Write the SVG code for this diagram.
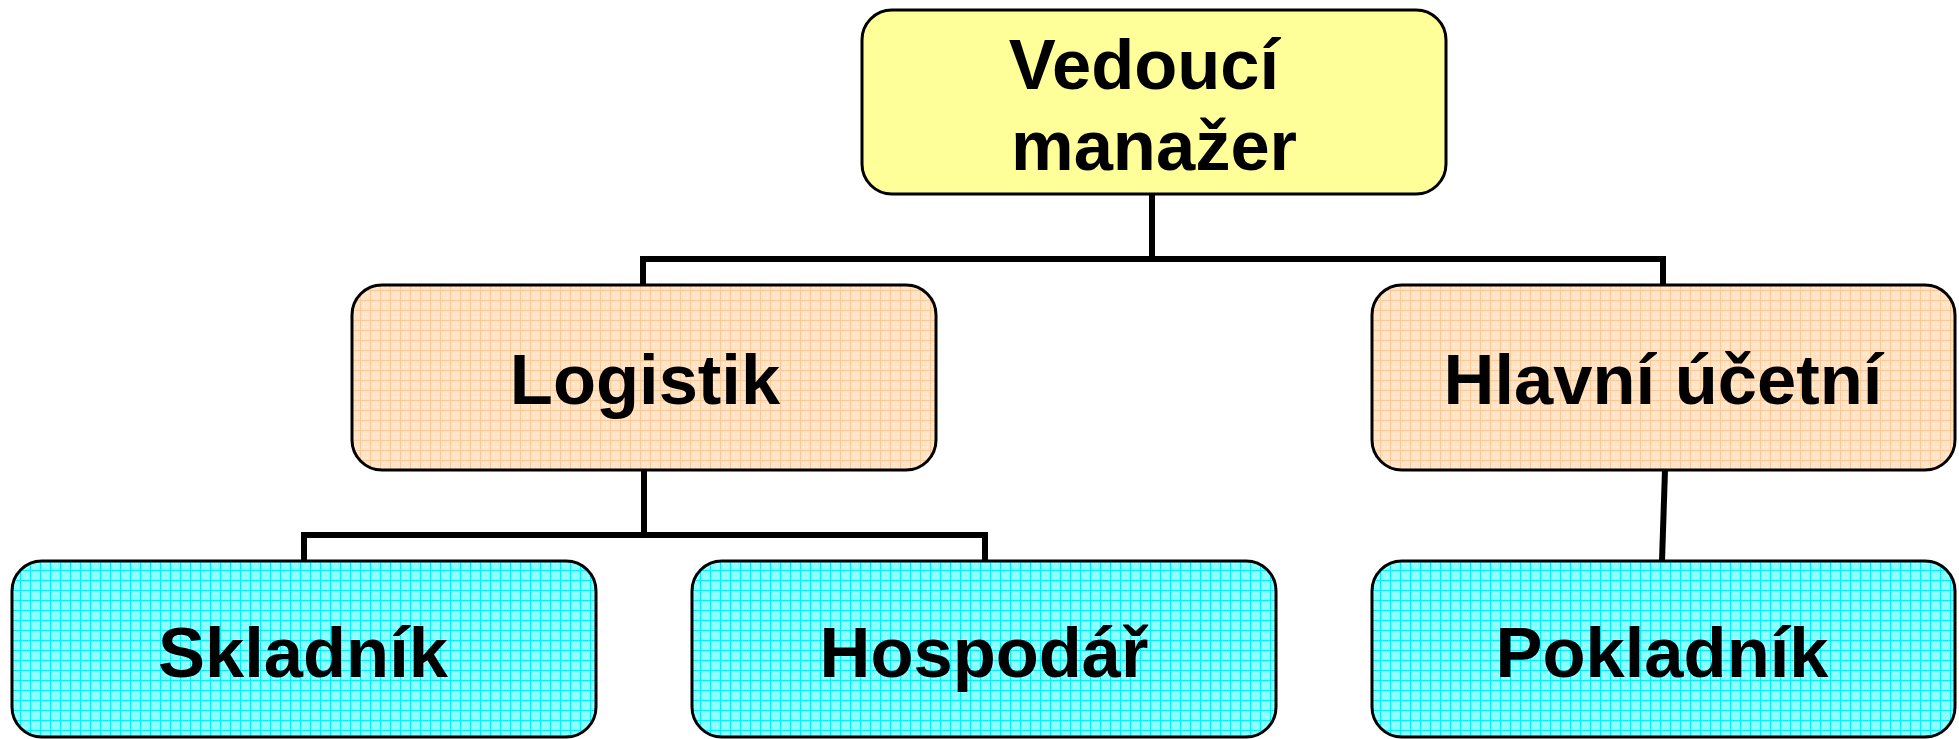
<svg xmlns="http://www.w3.org/2000/svg" width="1959" height="739" viewBox="0 0 1959 739">
<style>
.box{stroke:#000;stroke-width:3}
.lbl{font-family:"Liberation Sans",Arial,sans-serif;font-weight:bold;font-size:70.5px;fill:#000;text-anchor:middle}
.conn{fill:none;stroke:#000;stroke-width:6}
</style>
<defs>
<pattern id="peach" width="10" height="10" patternUnits="userSpaceOnUse">
<rect width="10" height="10" fill="#FFE4C8"/>
<rect x="0" y="0" width="10" height="1" fill="#FFC896"/>
<rect x="0" y="0" width="1" height="10" fill="#FFC896"/>
<rect x="3" y="3" width="1" height="1" fill="#FFF6EE"/>
<rect x="7" y="7" width="1" height="1" fill="#FFF6EE"/>
<rect x="7" y="3" width="1" height="1" fill="#FFF0E0"/>
<rect x="3" y="7" width="1" height="1" fill="#FFF0E0"/>
</pattern>
<pattern id="cyan" width="10" height="10" patternUnits="userSpaceOnUse">
<rect width="10" height="10" fill="#8CFFFF"/>
<rect x="0" y="0" width="10" height="1" fill="#00F0FF"/>
<rect x="0" y="0" width="1" height="10" fill="#00F0FF"/>
<rect x="3" y="3" width="1" height="1" fill="#E0FFFF"/>
<rect x="7" y="7" width="1" height="1" fill="#E0FFFF"/>
<rect x="7" y="3" width="1" height="1" fill="#C0FFFF"/>
<rect x="3" y="7" width="1" height="1" fill="#C0FFFF"/>
</pattern>
</defs>
<rect width="1959" height="739" fill="#fff"/>
<g id="connectors">
<polyline class="conn" points="1152,194 1152,259"/>
<polyline class="conn" points="643,285 643,259 1663,259 1663,285"/>
<polyline class="conn" points="644,470 644,535"/>
<polyline class="conn" points="304,561 304,535 985,535 985,561"/>
<line class="conn" x1="1665" y1="470" x2="1662" y2="561"/>
</g>
<g id="vedouci">
<rect class="box" x="862" y="10" width="584" height="184" rx="30" fill="#FFFF99"/>
<text class="lbl" x="1144" y="89">Vedoucí</text>
<text class="lbl" x="1154" y="170">manažer</text>
</g>
<g id="logistik">
<rect class="box" x="352" y="285" width="584" height="185" rx="30" fill="url(#peach)"/>
<text class="lbl" x="645" y="404">Logistik</text>
</g>
<g id="hlavni">
<rect class="box" x="1372" y="285" width="583" height="185" rx="30" fill="url(#peach)"/>
<text class="lbl" x="1663" y="404">Hlavní účetní</text>
</g>
<g id="skladnik">
<rect class="box" x="12" y="561" width="584" height="176" rx="30" fill="url(#cyan)"/>
<text class="lbl" x="303" y="677">Skladník</text>
</g>
<g id="hospodar">
<rect class="box" x="692" y="561" width="584" height="176" rx="30" fill="url(#cyan)"/>
<text class="lbl" x="984" y="677">Hospodář</text>
</g>
<g id="pokladnik">
<rect class="box" x="1372" y="561" width="583" height="176" rx="30" fill="url(#cyan)"/>
<text class="lbl" x="1662" y="677">Pokladník</text>
</g>
</svg>
